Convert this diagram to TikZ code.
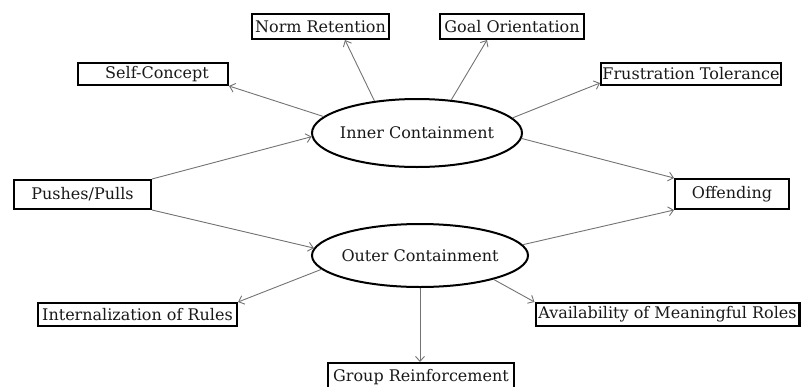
\documentclass[tikz,border=0pt]{standalone}
\usepackage{fontspec}
\setmainfont{DejaVu Serif}
\usetikzlibrary{arrows.meta,shapes.geometric}
\begin{document}
\begin{tikzpicture}[x=1pt,y=-1pt,
  boxn/.style={draw=black,line width=2.4pt,inner sep=0pt,font=\fontsize{16}{18}\selectfont,text=black!90},
  ell/.style={ellipse,draw=black,line width=2pt,inner sep=-15pt,font=\fontsize{16}{18}\selectfont,text=black!90},
  conn/.style={draw=black!55,line width=0.9pt,-{Straight Barb[length=5pt,width=9pt]}}]
\useasboundingbox (0,0) rectangle (803,386);
% boxes
\node[boxn,minimum width=136.6pt,minimum height=24.6pt] (norm) at (320.5,26.5) {Norm Retention};
\node[boxn,minimum width=143.6pt,minimum height=24.6pt] (goal) at (512,26.5) {Goal Orientation};
\node[boxn,minimum width=149.6pt,minimum height=21.6pt] (self) at (153,74) {\hspace*{8pt}Self-Concept};
\node[boxn,minimum width=179.6pt,minimum height=21.6pt] (frust) at (691,74) {Frustration Tolerance};
\node[boxn,minimum width=136.6pt,minimum height=28.6pt] (push) at (82.5,194.5) {Pushes/Pulls};
\node[boxn,minimum width=113.6pt,minimum height=29.6pt] (offend) at (732,194) {Offending};
\node[boxn,minimum width=198.6pt,minimum height=22.6pt] (intern) at (137.5,314.5) {Internalization of Rules};
\node[boxn,minimum width=263.6pt,minimum height=22.6pt] (avail) at (667.5,314.5) {Availability of Meaningful Roles};
\node[boxn,minimum width=185.6pt,minimum height=27.6pt] (group) at (421,377) {Group Reinforcement};
% ellipses
\node[ell,minimum width=210pt,minimum height=68pt] (inner) at (417,133) {Inner Containment};
\node[ell,minimum width=216pt,minimum height=63pt] (outer) at (420,255.5) {Outer Containment};
% connectors
\draw[conn] (inner.170.8) -- (self.south east);
\draw[conn] (inner.143) -- ([xshift=24.5pt]norm.south);
\draw[conn] (inner.44) -- ([xshift=-25pt]goal.south);
\draw[conn] (inner.9.3) -- ([yshift=3pt]frust.south west);
\draw[conn] (inner.-3) -- (offend.north west);
\draw[conn] (push.north east) -- (inner.182);
\draw[conn] (push.south east) -- (outer.176);
\draw[conn] (outer.188.4) -- (intern.north east);
\draw[conn] (outer.6.6) -- (offend.south west);
\draw[conn] (outer.-18) -- (avail.north west);
\draw[conn] (outer.south) -- (outer.south |- group.north);
\end{tikzpicture}
\end{document}
